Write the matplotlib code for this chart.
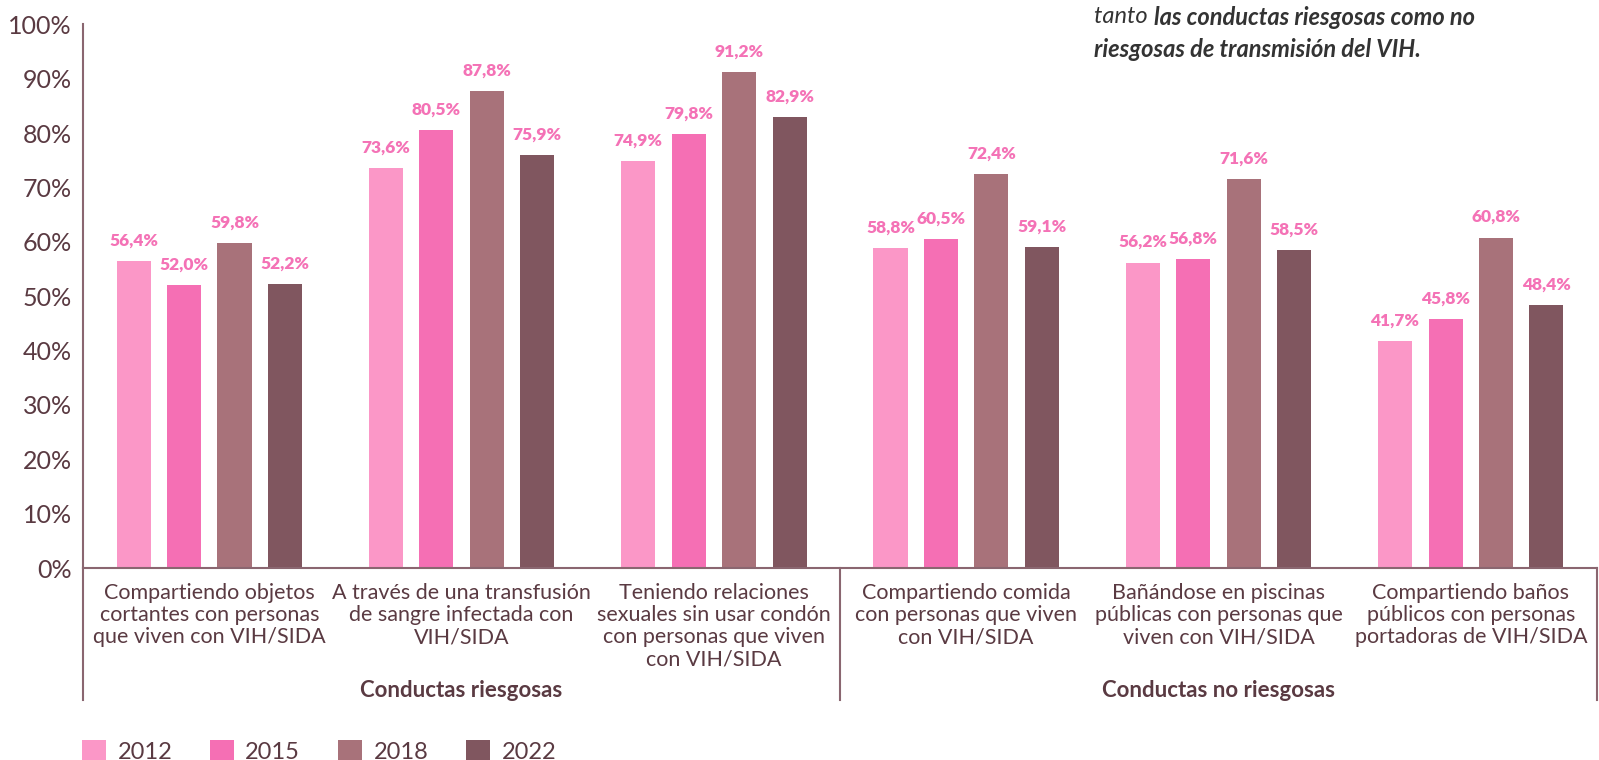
import matplotlib
matplotlib.use("Agg")
import matplotlib.pyplot as plt
import numpy as np

CATEGORIES = [
    "Compartiendo objetos\ncortantes con personas\nque viven con VIH/SIDA",
    "A través de una transfusión\nde sangre infectada con\nVIH/SIDA",
    "Teniendo relaciones\nsexuales sin usar condón\ncon personas que viven\ncon VIH/SIDA",
    "Compartiendo comida\ncon personas que viven\ncon VIH/SIDA",
    "Bañándose en piscinas\npúblicas con personas que\nviven con VIH/SIDA",
    "Compartiendo baños\npúblicos con personas\nportadoras de VIH/SIDA",
]
GROUPS = ["Conductas riesgosas", "Conductas no riesgosas"]
YEARS = ["2012", "2015", "2018", "2022"]
VALUES = {
    "2012": [56.4, 73.6, 74.9, 58.8, 56.2, 41.7],
    "2015": [52.0, 80.5, 79.8, 60.5, 56.8, 45.8],
    "2018": [59.8, 87.8, 91.2, 72.4, 71.6, 60.8],
    "2022": [52.2, 75.9, 82.9, 59.1, 58.5, 48.4],
}
COLORS = ["#fb97c7", "#f56fb4", "#a8727a", "#80565f"]

TEXT = "#5a3a42"
LINE = "#8a6670"
LABEL_PINK = "#f472b6"

plt.rcParams["font.family"] = ["Lato", "DejaVu Sans"]

fig = plt.figure(figsize=(15.99, 7.6), dpi=100)
ax = fig.add_axes([0.052, 0.2526, 0.9467, 0.7152])

x = np.arange(len(CATEGORIES))
width = 0.135
step = 0.2
for i, year in enumerate(YEARS):
    pos = x + (i - 1.5) * step
    vals = VALUES[year]
    ax.bar(pos, vals, width=width, color=COLORS[i], label=year, zorder=2)
    for xp, v in zip(pos, vals):
        ax.annotate(f"{v:.1f}%".replace(".", ","), (xp, v), xytext=(0, 9),
                    textcoords="offset points", ha="center", va="bottom",
                    fontsize=12.5, fontweight="heavy", color=LABEL_PINK)

ax.set_xlim(-0.5, len(CATEGORIES) - 0.5)
ax.set_ylim(0, 100)
ax.set_yticks(np.arange(0, 101, 10))
ax.set_yticklabels([f"{t}%" for t in range(0, 101, 10)], fontsize=18, color=TEXT)
ax.set_xticks(x)
ax.set_xticklabels(CATEGORIES, fontsize=15.5, color=TEXT, linespacing=1.12, va="top")
ax.tick_params(axis="both", length=0)
ax.tick_params(axis="x", pad=11)
ax.tick_params(axis="y", pad=8)
for side in ["top", "right"]:
    ax.spines[side].set_visible(False)
for side in ["left", "bottom"]:
    ax.spines[side].set_color(LINE)
    ax.spines[side].set_linewidth(1.5)

# group brackets below the axis
low = -0.243
for xf in [0.0, 0.5, 1.0]:
    ax.plot([xf, xf], [0, low], transform=ax.transAxes, color=LINE,
            linewidth=1.5, clip_on=False)
for k, name in enumerate(GROUPS):
    ax.text(0.25 + 0.5 * k, -0.225, name, transform=ax.transAxes, ha="center",
            va="center", fontsize=16, fontweight="bold", color=TEXT)

fig.legend(loc="lower left", bbox_to_anchor=(0.038, -0.032), ncol=4, frameon=False,
           fontsize=17, handlelength=1.0, handleheight=1.0, handletextpad=0.5,
           columnspacing=1.6, labelcolor=TEXT)

fig.text(0.684, 0.992, "tanto ", ha="left", va="top", fontsize=17,
         style="italic", color="#333333")
fig.text(0.7215, 0.992, "las conductas riesgosas como no", ha="left", va="top",
         fontsize=17, style="italic", fontweight="bold", color="#333333")
fig.text(0.684, 0.950, "riesgosas de transmisión del VIH.", ha="left", va="top",
         fontsize=17, style="italic", fontweight="bold", color="#333333")

fig.savefig("out.png", dpi=100)
